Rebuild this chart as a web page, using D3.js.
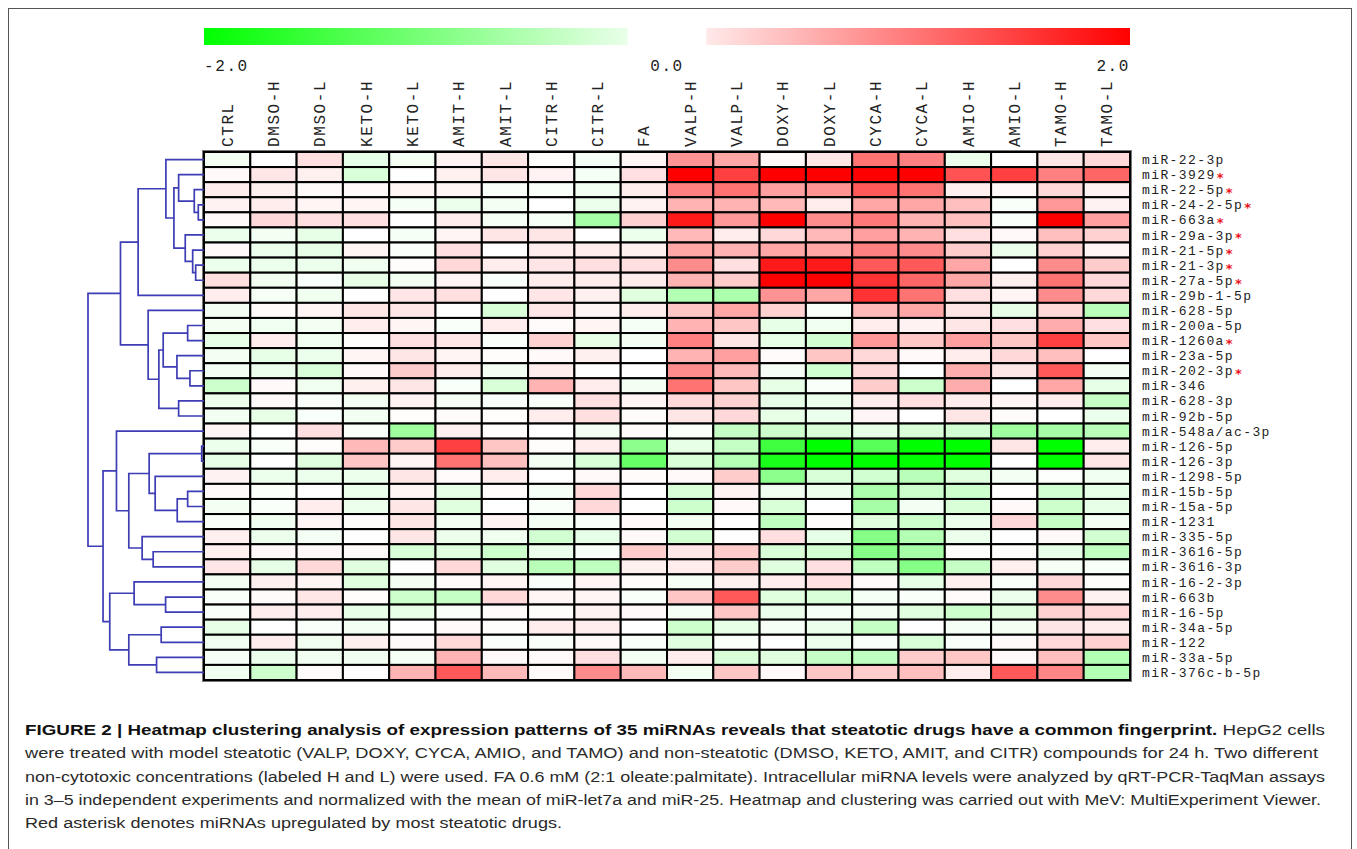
<!DOCTYPE html>
<html>
<head>
<meta charset="utf-8">
<script src="https://cdn.jsdelivr.net/npm/d3@7"></script>
<style>
  body { margin: 0; background: #fff; }
  .mono { font-family: 'Liberation Mono', 'DejaVu Sans Mono', monospace; fill: #222; }
  .caption { font-family: 'Liberation Sans Narrow', 'Liberation Sans', Arial, sans-serif; font-size: 15.5px; fill: #2a2a2a; }
</style>
</head>
<body>
<script>
// samples (columns of the heatmap)
const columns = ['CTRL', 'DMSO-H', 'DMSO-L', 'KETO-H', 'KETO-L', 'AMIT-H', 'AMIT-L', 'CITR-H', 'CITR-L', 'FA',
  'VALP-H', 'VALP-L', 'DOXY-H', 'DOXY-L', 'CYCA-H', 'CYCA-L', 'AMIO-H', 'AMIO-L', 'TAMO-H', 'TAMO-L'];

// miRNAs in the clustered order (rows)
const mirnas = ['miR-22-3p', 'miR-3929', 'miR-22-5p', 'miR-24-2-5p', 'miR-663a', 'miR-29a-3p', 'miR-21-5p',
  'miR-21-3p', 'miR-27a-5p', 'miR-29b-1-5p', 'miR-628-5p', 'miR-200a-5p', 'miR-1260a', 'miR-23a-5p',
  'miR-202-3p', 'miR-346', 'miR-628-3p', 'miR-92b-5p', 'miR-548a/ac-3p', 'miR-126-5p', 'miR-126-3p',
  'miR-1298-5p', 'miR-15b-5p', 'miR-15a-5p', 'miR-1231', 'miR-335-5p', 'miR-3616-5p', 'miR-3616-3p',
  'miR-16-2-3p', 'miR-663b', 'miR-16-5p', 'miR-34a-5p', 'miR-122', 'miR-33a-5p', 'miR-376c-b-5p'];

// miRNAs upregulated by most steatotic drugs (red asterisk)
const starred = ['miR-3929', 'miR-22-5p', 'miR-24-2-5p', 'miR-663a', 'miR-29a-3p', 'miR-21-5p',
  'miR-21-3p', 'miR-27a-5p', 'miR-1260a', 'miR-202-3p'];

// log expression, one row per miRNA, one value per column
const values = [
  [-0.1, 0, 0.25, -0.2, -0.1, 0.1, 0.2, 0.02, -0.08, 0.08, 0.85, 0.7, 0.05, 0.2, 1.1, 1.0, -0.15, 0, 0.2, 0.3],
  [0.05, 0.2, 0.12, -0.3, 0, 0.12, 0.2, 0.1, -0.08, 0.25, 2.0, 1.5, 2.0, 2.0, 2.0, 2.0, 1.35, 1.5, 1.0, 1.2],
  [0.15, 0.12, 0.05, 0.05, 0.08, 0.08, -0.05, -0.05, -0.12, 0.15, 1.0, 1.1, 0.75, 0.85, 1.3, 1.1, 0.12, 0.05, 0.3, 0.1],
  [0.1, 0.15, 0.08, 0.08, -0.08, -0.15, -0.1, 0, -0.15, 0.1, 0.6, 0.6, 0.55, 0.15, 0.7, 0.7, 0.5, -0.05, 0.8, 0.1],
  [0.05, 0.3, 0.25, 0.25, 0, 0.15, -0.08, -0.08, -0.7, 0.35, 1.8, 0.8, 2.0, 0.9, 1.05, 0.6, 0.5, -0.05, 2.0, 0.75],
  [-0.15, -0.1, -0.2, 0, -0.08, 0.08, 0.2, 0.2, 0, -0.15, 0.55, 0.15, 0.3, 0.55, 0.75, 0.6, 0.25, 0.05, 0.5, 0.35],
  [0.05, -0.15, -0.2, 0.08, -0.05, 0.25, 0, 0.15, 0.15, 0.12, 0.7, 0.6, 0.7, 0.7, 1.0, 0.9, 0.4, -0.15, 0.35, 0.08],
  [-0.15, -0.15, -0.15, -0.12, 0.02, 0.3, 0.15, 0.2, 0.25, 0.25, 0.9, 0.25, 1.8, 1.8, 1.3, 1.3, 0.7, 0, 0.9, 0.4],
  [0.25, -0.12, -0.05, -0.2, -0.1, 0.08, -0.05, 0.15, 0.15, 0.15, 0.6, 0.4, 2.0, 2.0, 1.6, 1.2, 0.7, 0.12, 1.1, 0.3],
  [0.15, -0.08, -0.12, 0, 0.2, 0.25, 0, 0.2, 0.12, -0.25, -0.6, -0.65, 0.85, 0.7, 1.6, 1.1, 0.25, 0.08, 0.9, 0.3],
  [-0.1, 0.03, 0.08, 0.2, 0.2, 0, -0.3, 0.2, 0.08, 0.15, 0.45, 0.7, 0.35, -0.05, 0.55, 0.7, 0.2, -0.2, 0.3, -0.55],
  [-0.1, -0.12, -0.1, 0.15, 0.08, -0.05, 0.15, 0.03, 0.08, -0.08, 0.6, 0.45, -0.2, -0.12, 0.15, 0.1, 0.2, 0.25, 0.65, 0.25],
  [-0.2, 0.15, -0.12, 0.02, 0.25, 0.2, -0.05, 0.35, -0.2, -0.1, 1.0, 0.2, -0.2, -0.35, 0.8, 0.45, 0.75, 0.45, 1.5, 0.45],
  [-0.1, -0.2, -0.15, 0.08, 0.2, 0.08, 0.02, 0.05, 0.12, 0, 0.6, 0.75, 0.03, 0.45, 0.3, 0.05, 0.15, 0.3, 0.5, 0],
  [-0.1, -0.15, -0.3, 0.05, 0.4, 0.15, -0.1, 0.15, 0, 0, 0.9, 0.55, -0.08, -0.35, 0.3, 0, 0.65, 0.2, 1.3, -0.1],
  [-0.4, 0.05, -0.12, 0.12, 0.2, -0.05, -0.3, 0.6, 0.15, -0.1, 1.1, 0.45, -0.2, -0.05, 0.4, -0.4, 0.65, 0, 0.7, -0.2],
  [-0.15, 0.05, -0.05, -0.1, 0.1, -0.08, -0.05, -0.05, 0.25, 0.08, 0.3, 0.35, -0.2, -0.15, 0.15, 0.25, 0.15, 0.08, 0.15, -0.45],
  [-0.1, -0.2, -0.05, -0.1, 0.02, 0.03, 0.02, 0.15, 0.25, 0.03, 0.2, 0.3, -0.2, -0.15, 0.08, 0, 0.2, 0.03, 0, -0.15],
  [0.08, 0, 0.25, -0.05, -0.75, 0.12, 0.02, 0, -0.1, 0.05, -0.05, -0.45, -0.4, -0.3, -0.2, -0.3, -0.35, -0.75, -0.7, -0.55],
  [-0.15, -0.05, 0.02, 0.55, 0.4, 1.5, 0.45, 0.02, 0.15, -0.9, -0.2, -0.45, -1.5, -2.0, -1.3, -2.0, -2.0, 0.2, -2.0, 0.15],
  [-0.2, 0, -0.25, 0.45, 0.08, 1.1, 0.5, -0.1, -0.3, -1.2, -0.3, -0.6, -1.8, -2.0, -2.0, -2.0, -2.0, 0, -2.0, 0.2],
  [0.1, -0.15, -0.15, -0.15, 0.2, 0.03, 0.15, 0, 0.05, 0.03, 0.05, 0.4, -0.9, -0.3, -0.35, -0.55, -0.25, -0.1, -0.02, -0.12],
  [0.05, -0.05, 0, -0.15, 0.08, -0.2, 0.03, -0.08, 0.3, 0, -0.3, 0.1, -0.12, -0.15, -0.65, -0.4, -0.4, 0, -0.35, -0.2],
  [-0.1, -0.05, 0.15, -0.15, 0.2, -0.25, 0, -0.05, 0.3, 0, -0.4, 0.05, -0.3, 0, -0.7, -0.1, -0.3, 0.05, -0.4, -0.2],
  [-0.05, -0.12, 0.08, 0.02, 0.2, -0.1, 0.1, -0.1, -0.05, 0.05, -0.1, 0, -0.5, 0.02, -0.25, -0.4, -0.15, 0.3, -0.45, -0.1],
  [0.12, -0.15, -0.08, 0, 0.2, -0.15, -0.12, -0.35, -0.2, 0.05, -0.35, 0, 0.25, -0.2, -0.95, -0.6, -0.15, 0, 0.05, -0.35],
  [0.12, 0.05, 0.05, 0.04, -0.3, -0.25, -0.4, -0.15, -0.05, 0.4, 0.2, 0.4, -0.3, -0.35, -0.95, -0.7, 0.02, 0.02, -0.2, -0.5],
  [0.2, -0.2, 0.3, -0.25, 0.01, 0.3, -0.25, -0.55, -0.5, 0.12, 0.15, 0.4, -0.25, 0.25, -0.5, -0.95, -0.45, 0.12, -0.08, -0.05],
  [-0.1, 0.12, 0.08, -0.25, -0.1, 0.03, 0.08, -0.05, 0.08, 0.03, -0.08, 0.12, 0.15, 0.25, 0.05, -0.2, 0.12, -0.05, 0.3, 0.02],
  [-0.05, 0.04, 0.2, 0.02, -0.4, -0.45, 0.3, 0.08, 0.08, -0.05, 0.45, 1.3, -0.25, -0.3, -0.08, -0.05, 0.03, -0.15, 0.9, 0.1],
  [-0.05, 0.15, 0.15, -0.2, -0.2, -0.05, 0.03, 0.02, 0.1, 0.05, -0.08, 0.45, -0.15, -0.08, -0.1, -0.25, -0.4, -0.25, 0.35, 0.3],
  [-0.2, 0, -0.05, -0.1, 0, 0.05, 0.02, 0.15, 0.15, 0, -0.4, -0.2, -0.08, -0.15, -0.45, 0, -0.08, -0.1, 0.2, 0.15],
  [-0.12, 0.15, -0.12, 0.12, 0.05, 0.3, -0.03, -0.05, 0.05, -0.05, -0.25, -0.05, 0, -0.15, -0.05, -0.3, -0.05, 0.05, 0.3, 0.35],
  [-0.08, -0.15, -0.12, -0.12, -0.08, 0.6, 0.05, 0.05, 0.25, -0.1, 0.15, -0.3, -0.25, -0.45, -0.5, 0.4, 0.45, 0.05, 0.5, -0.6],
  [-0.12, -0.4, 0.03, 0.01, 0.6, 1.3, 0.55, 0.05, 0.9, 0.55, -0.1, 0.45, 0.05, 0.45, 0.4, 0.5, 0.15, 1.3, 0.95, -0.6]
];

// hierarchical clustering: [node id, left child, right child, merge distance]
const merges = [
  ['A', 'miR-24-2-5p', 'miR-663a', 5.7],
  ['B', 'miR-22-5p', 'A', 9.7],
  ['C', 'miR-3929', 'B', 25.3],
  ['D', 'miR-21-3p', 'miR-27a-5p', 8.3],
  ['E', 'miR-21-5p', 'D', 11.3],
  ['F', 'miR-29a-3p', 'E', 18.7],
  ['G', 'C', 'F', 30],
  ['H', 'miR-22-3p', 'G', 38],
  ['I', 'H', 'miR-29b-1-5p', 65.7],
  ['J', 'miR-200a-5p', 'miR-1260a', 16.3],
  ['K', 'miR-202-3p', 'miR-346', 14],
  ['L', 'miR-23a-5p', 'K', 27],
  ['M', 'J', 'L', 40.7],
  ['N', 'miR-628-3p', 'miR-92b-5p', 25.3],
  ['O', 'M', 'N', 45],
  ['P', 'miR-628-5p', 'O', 55.7],
  ['Q', 'I', 'P', 83.3],
  ['R', 'miR-126-5p', 'miR-126-3p', 2.3],
  ['S', 'miR-15b-5p', 'miR-15a-5p', 16.3],
  ['T', 'S', 'miR-1231', 26.7],
  ['U', 'miR-1298-5p', 'T', 48.7],
  ['V', 'R', 'U', 54.7],
  ['W', 'miR-3616-5p', 'miR-3616-3p', 50.7],
  ['X', 'miR-335-5p', 'W', 61.7],
  ['Y', 'V', 'X', 75],
  ['Z', 'miR-548a/ac-3p', 'Y', 87.3],
  ['a', 'miR-663b', 'miR-16-5p', 38.3],
  ['b', 'miR-16-2-3p', 'a', 69.7],
  ['c', 'miR-34a-5p', 'miR-122', 42.7],
  ['d', 'miR-33a-5p', 'miR-376c-b-5p', 47.3],
  ['e', 'c', 'd', 75],
  ['f', 'b', 'e', 94],
  ['g', 'Z', 'f', 100.7],
  ['root', 'Q', 'g', 115.7]
];

// colour bar ticks
const scaleTicks = [-2, 0, 2];

// figure caption, first line starts with the bold title
const captionTitle = 'FIGURE 2 | Heatmap clustering analysis of expression patterns of 35 miRNAs reveals that steatotic drugs have a common fingerprint.';
const captionLines = [
  ' HepG2 cells',
  'were treated with model steatotic (VALP, DOXY, CYCA, AMIO, and TAMO) and non-steatotic (DMSO, KETO, AMIT, and CITR) compounds for 24 h. Two different',
  'non-cytotoxic concentrations (labeled H and L) were used. FA 0.6 mM (2:1 oleate:palmitate). Intracellular miRNA levels were analyzed by qRT-PCR-TaqMan assays',
  'in 3\u20135 independent experiments and normalized with the mean of miR-let7a and miR-25. Heatmap and clustering was carried out with MeV: MultiExperiment Viewer.',
  'Red asterisk denotes miRNAs upregulated by most steatotic drugs.'
];
const captionWidths = [1300, 1293, 1300, 1296, 537];

/////////////////////////

const dims = {
  left: 204,
  top: 152,
  right: 1130,
  bottom: 680,
  treeRoot: 88
};

const svg = d3.select('body').append('svg')
  .attr('width', 1357)
  .attr('height', 849);

// figure frame
svg.append('rect')
  .attr('x', 8.5).attr('y', 8.5)
  .attr('width', 1343).attr('height', 900)
  .attr('fill', 'none')
  .attr('stroke', '#555')
  .attr('stroke-width', 1);

const xscale = d3.scaleBand().domain(columns).range([dims.left, dims.right]);
const yscale = d3.scaleBand().domain(mirnas).range([dims.top, dims.bottom]);
const color = d3.scaleLinear().domain([-2, 0, 2]).range(['#00ff00', '#ffffff', '#ff0000']).clamp(true);
const barScale = d3.scaleLinear().domain([-2, 2]).range([dims.left, dims.right]);
const treeScale = d3.scaleLinear().domain([0, d3.max(merges, (d) => d[3])]).range([dims.left, dims.treeRoot]);

//colour bars (green half and red half, white gap around zero)
const defs = svg.append('defs');
const bars = [
  { id: 'gradGreen', from: -2, to: -0.17 },
  { id: 'gradRed', from: 0.17, to: 2 }
];
bars.forEach((b) => {
  const g = defs.append('linearGradient').attr('id', b.id);
  g.append('stop').attr('offset', '0%').attr('stop-color', color(b.from));
  g.append('stop').attr('offset', '100%').attr('stop-color', color(b.to));
  svg.append('rect')
    .attr('x', barScale(b.from))
    .attr('y', 28)
    .attr('width', barScale(b.to) - barScale(b.from))
    .attr('height', 17)
    .attr('fill', `url(#${b.id})`);
});

svg.append('g').selectAll('text').data(scaleTicks).enter().append('text')
  .attr('class', 'mono')
  .attr('x', (d) => barScale(d))
  .attr('y', 71)
  .attr('text-anchor', (d) => d < 0 ? 'start' : d > 0 ? 'end' : 'middle')
  .style('font-size', '16px')
  .style('letter-spacing', '1.6px')
  .text((d) => d.toFixed(1));

//column labels, rotated
svg.append('g').selectAll('text').data(columns).enter().append('text')
  .attr('class', 'mono')
  .attr('transform', (d) => `translate(${xscale(d) + xscale.bandwidth() / 2},147) rotate(-90)`)
  .attr('dy', '0.35em')
  .style('font-size', '16px')
  .style('letter-spacing', '1.6px')
  .text(String);

//heatmap cells
const cells = [];
mirnas.forEach((m, i) => columns.forEach((c, j) => cells.push({ m, c, v: values[i][j] })));
svg.append('g').selectAll('rect').data(cells).enter().append('rect')
  .attr('x', (d) => xscale(d.c))
  .attr('y', (d) => yscale(d.m))
  .attr('width', xscale.bandwidth())
  .attr('height', yscale.bandwidth())
  .attr('fill', (d) => color(d.v))
  .attr('stroke', '#000')
  .attr('stroke-width', 2);

svg.append('rect')
  .attr('x', dims.left - 1.5).attr('y', dims.top - 1.5)
  .attr('width', dims.right - dims.left + 3).attr('height', dims.bottom - dims.top + 3)
  .attr('fill', 'none')
  .attr('stroke', '#777')
  .attr('stroke-width', 1);

//row labels + red asterisks
const rowLabels = svg.append('g').selectAll('g').data(mirnas).enter().append('g')
  .attr('transform', (d) => `translate(1142,${yscale(d) + yscale.bandwidth() / 2})`);
rowLabels.append('text')
  .attr('class', 'mono')
  .attr('dy', '0.35em')
  .style('font-size', '13px')
  .style('letter-spacing', '1.4px')
  .text(String);
rowLabels.filter((d) => starred.includes(d)).each(function() {
  const g = d3.select(this);
  const w = g.select('text').node().getBBox().width;
  g.append('text')
    .attr('x', w + 1)
    .attr('y', 7.5)
    .style('font-family', 'DejaVu Sans, sans-serif')
    .style('font-weight', 'bold')
    .style('font-size', '13px')
    .attr('fill', '#e8141c')
    .text('*');
});

//dendrogram: leaves sit at the heatmap edge, each merge is an elbow
const nodes = new Map();
mirnas.forEach((m) => nodes.set(m, { x: treeScale(0), y: yscale(m) + yscale.bandwidth() / 2 }));
const links = [];
merges.forEach(([id, a, b, h]) => {
  const na = nodes.get(a);
  const nb = nodes.get(b);
  const x = treeScale(h);
  nodes.set(id, { x, y: (na.y + nb.y) / 2 });
  links.push(`M${na.x},${na.y}H${x}V${nb.y}H${nb.x}`);
});
svg.append('g').selectAll('path').data(links).enter().append('path')
  .attr('d', String)
  .attr('fill', 'none')
  .attr('stroke', '#3d3db5')
  .attr('stroke-width', 1.7);

//caption
const caption = svg.append('g').attr('class', 'caption');
const captionY = d3.scaleLinear().domain([0, 1]).range([735, 758.3]);
captionLines.forEach((line, i) => {
  const t = caption.append('text')
    .attr('x', 25)
    .attr('y', captionY(i))
    .attr('textLength', captionWidths[i])
    .attr('lengthAdjust', 'spacingAndGlyphs');
  if (i === 0) {
    t.append('tspan').style('font-weight', 'bold').attr('fill', '#111').text(captionTitle);
  }
  t.append('tspan').text(line);
});
</script>
</body>
</html>
